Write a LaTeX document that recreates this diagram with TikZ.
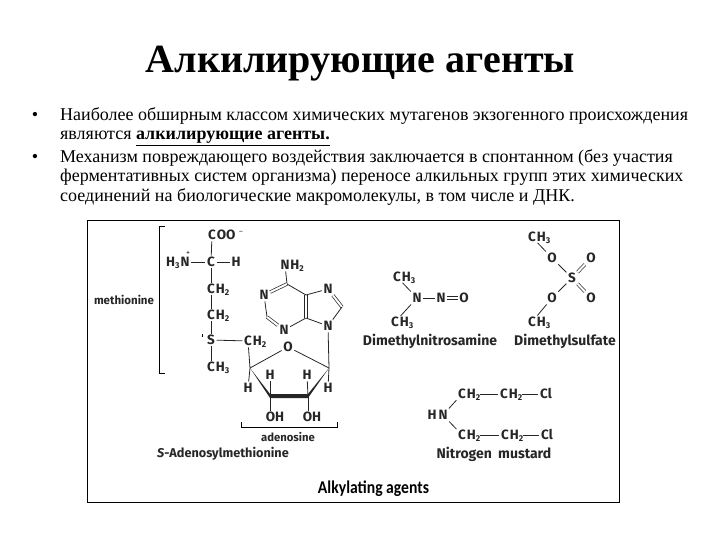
\documentclass[tikz,border=0pt]{standalone}
\usepackage{fontspec}
\setmainfont{Liberation Serif}
\setsansfont{Fira Sans}
\newfontfamily\captionfont{Carlito}
\usetikzlibrary{positioning}
\newcommand{\lowidx}[1]{\raisebox{-2pt}{\fontsize{8.5}{8.5}\selectfont #1}}
\tikzset{
    atom/.style={font=\fontsize{13.5}{14}\selectfont\sffamily\bfseries,text=black!85,inner sep=1.5pt,text height=9.5pt,text depth=0pt},
    tailtext/.style={atom,inner sep=0pt},
    chemname/.style={font=\fontsize{14}{15}\selectfont\sffamily\bfseries,text=black!85,inner sep=0pt},
    bond/.style={draw=black!85,line width=0.8pt},
    dbond/.style={draw=black!85,double,double distance=2pt,line width=0.7pt},
    bodyline/.style={font=\fontsize{18}{19}\selectfont,anchor=base west,inner sep=0pt},
}
\begin{document}
\begin{tikzpicture}[x=1pt,y=-1pt]
    \useasboundingbox (0,0) rectangle (720,540);
    \node (title) at (360.5,64) {\fontsize{40}{42}\selectfont\bfseries Алкилирующие агенты};
    \foreach \ypos/\nm in {116/bulleta,158/bulletb} {
    \node (\nm) at (35,\ypos) {\fontsize{18}{19}\selectfont •};
    }
    \foreach \ypos/\textline in {
        121/{Наиболее обширным классом химических мутагенов экзогенного происхождения},
        140/{являются \underline{\bfseries алкилирующие агенты.}},
        163/{Механизм повреждающего воздействия заключается в спонтанном (без участия},
        182/{ферментативных систем организма) переносе алкильных групп этих химических},
        202/{соединений на биологические макромолекулы, в том числе и ДНК.}} {
    \node[bodyline] (line\ypos) at (60,\ypos) {\textline};
    }
    \draw[line width=0.8pt] (87.5,220.5) rectangle (619.5,502);
    % methionine part
    \node[atom] (coo) at (212,235) {C};
    \node[tailtext,right=-1pt of coo] (cootail) {OO};
    \node[atom,text=black!50] (minus) at (241,230) {\fontsize{8}{8}\selectfont −};
    \node[atom] (nthree) at (185,262) {N};
    \node[tailtext,left=-1pt of nthree] (nthreetail) {H\lowidx{3}};
    \node[atom] (plus) at (188,251) {\fontsize{8}{8}\selectfont\mdseries +};
    \node[atom] (calpha) at (211,262) {C};
    \node[atom] (halpha) at (236,262) {H};
    \node[atom] (chb) at (211,289) {C};
    \node[tailtext,right=-1pt of chb] (chbtail) {H\lowidx{2}};
    \node[atom] (chg) at (211,315) {C};
    \node[tailtext,right=-1pt of chg] (chgtail) {H\lowidx{2}};
    \node[atom] (sulf) at (211,340) {S};
    \node[atom] (chme) at (211,367) {C};
    \node[tailtext,right=-1pt of chme] (chmetail) {H\lowidx{3}};
    \node[atom] (chfive) at (248,341) {C};
    \node[tailtext,right=-1pt of chfive] (chfivetail) {H\lowidx{2}};
    \node[chemname,font=\fontsize{11.5}{12}\selectfont\sffamily\bfseries] (methname) at (124,300) {methionine};
    \draw[line width=1pt] (165,227) -- (159.5,227) -- (159.5,373) -- (165,373);
    \draw[line width=0.4pt] (202.5,334) -- (202.5,336.5);
    \draw[bond] (coo) -- (calpha);
    \draw[bond] (nthree) -- (calpha);
    \draw[bond] (calpha) -- (halpha);
    \draw[bond] (calpha) -- (chb);
    \draw[bond] (chb) -- (chg);
    \draw[bond] (chg) -- (sulf);
    \draw[bond] (sulf) -- (chme);
    \draw[bond] (sulf) -- (chfive);
    % adenine
    \node[atom] (nsix) at (285,265) {N};
    \node[tailtext,right=-1pt of nsix] (nsixtail) {H\lowidx{2}};
    \node[atom] (none) at (264,295) {N};
    \node[atom] (nseven) at (328,289) {N};
    \node[atom] (nthr) at (284,330) {N};
    \node[atom] (nnine) at (328,326) {N};
    \coordinate (csix) at (287,284);
    \coordinate (cfive) at (306,295);
    \coordinate (cfour) at (306,318);
    \coordinate (ceight) at (342,307);
    \coordinate (ctwo) at (267,317);
    \draw[bond] (nsix) -- (csix);
    \draw[dbond] (csix) -- (none);
    \draw[bond] (none) -- (ctwo);
    \draw[dbond] (ctwo) -- (nthr);
    \draw[bond] (nthr) -- (cfour);
    \draw[dbond] (cfour) -- (cfive);
    \draw[bond] (cfive) -- (csix);
    \draw[bond] (cfive) -- (nseven);
    \draw[dbond] (nseven) -- (ceight);
    \draw[bond] (ceight) -- (nnine);
    \draw[bond] (nnine) -- (cfour);
    % ribose
    \node[atom] (oring) at (288,347) {O};
    \coordinate (cfourp) at (250,368);
    \coordinate (coneb) at (329,368);
    \coordinate (cthreep) at (270,396);
    \coordinate (ctwop) at (308,396);
    \node[atom] (hleft) at (248,388) {H};
    \node[atom] (hright) at (328,388) {H};
    \node[atom] (hthree) at (270,375) {H};
    \node[atom] (htwo) at (307,375) {H};
    \node[atom] (ohthree) at (275,417) {OH};
    \node[atom] (ohtwo) at (312,417) {OH};
    \draw[bond] (chfive) -- (cfourp);
    \draw[bond] (cfourp) -- (oring);
    \draw[bond] (oring) -- (coneb);
    \draw[bond] (coneb) -- (nnine);
    \draw[bond] (cfourp) -- (hleft);
    \draw[bond] (coneb) -- (hright);
    \draw[bond] (cthreep) -- (hthree);
    \draw[bond] (ctwop) -- (htwo);
    \draw[bond] (cthreep) -- (cthreep |- ohthree.north);
    \draw[bond] (ctwop) -- (ctwop |- ohtwo.north);
    \fill[black!85] (cfourp) -- ([yshift=2pt]cthreep) -- ([yshift=2pt]ctwop) -- (coneb)
        -- ([yshift=-2pt]ctwop) -- ([yshift=-2pt]cthreep) -- cycle;
    \draw[line width=0.8pt] (241,422) -- (241,427) -- (337,427) -- (337,422);
    \node[chemname,font=\fontsize{11.3}{12}\selectfont\sffamily\bfseries] (adename) at (288,437) {adenosine};
    \node[chemname,font=\fontsize{12.7}{13}\selectfont\sffamily\bfseries] (samname) at (223,454) {\textit{S}-Adenosylmethionine};
    % dimethylnitrosamine
    \node[atom] (meup) at (397,277) {C};
    \node[tailtext,right=-1pt of meup] (meuptail) {H\lowidx{3}};
    \node[atom] (melo) at (395,322) {C};
    \node[tailtext,right=-1pt of melo] (melotail) {H\lowidx{3}};
    \node[atom] (namine) at (417,298) {N};
    \node[atom] (nnitro) at (441,298) {N};
    \node[atom] (onitro) at (464,298) {O};
    \draw[bond] (meup) -- (namine);
    \draw[bond] (melo) -- (namine);
    \draw[bond] (namine) -- (nnitro);
    \draw[dbond] (nnitro) -- (onitro);
    \node[chemname] (dmnname) at (430,341) {Dimethylnitrosamine};
    % dimethylsulfate
    \node[atom] (msup) at (532,237) {C};
    \node[tailtext,right=-1pt of msup] (msuptail) {H\lowidx{3}};
    \node[atom] (mslo) at (532,322) {C};
    \node[tailtext,right=-1pt of mslo] (mslotail) {H\lowidx{3}};
    \node[atom] (oup) at (552,258) {O};
    \node[atom] (olo) at (552,298) {O};
    \node[atom] (ssulf) at (572,278) {S};
    \node[atom] (odup) at (591,258) {O};
    \node[atom] (odlo) at (591,298) {O};
    \draw[bond] (msup) -- (oup);
    \draw[bond] (mslo) -- (olo);
    \draw[bond] (oup) -- (ssulf);
    \draw[bond] (olo) -- (ssulf);
    \draw[dbond] (ssulf) -- (odup);
    \draw[dbond] (ssulf) -- (odlo);
    \node[chemname] (dmsname) at (565,341) {Dimethylsulfate};
    % nitrogen mustard
    \node[atom] (hn) at (443,415) {N};
    \node[tailtext,left=0pt of hn] (hntail) {H};
    \node[atom] (mua) at (462,394) {C};
    \node[tailtext,right=-1pt of mua] (muatail) {H\lowidx{2}};
    \node[atom] (mub) at (504,394) {C};
    \node[tailtext,right=-1pt of mub] (mubtail) {H\lowidx{2}};
    \node[atom] (mucl) at (546,394) {Cl};
    \node[atom] (muc) at (462,435) {C};
    \node[tailtext,right=-1pt of muc] (muctail) {H\lowidx{2}};
    \node[atom] (mud) at (505,435) {C};
    \node[tailtext,right=-1pt of mud] (mudtail) {H\lowidx{2}};
    \node[atom] (mucll) at (547,435) {Cl};
    \draw[bond] (hn) -- (mua);
    \draw[bond] (hn) -- (muc);
    \draw[bond] (muatail) -- (mub);
    \draw[bond] (mubtail) -- (mucl);
    \draw[bond] (muctail) -- (mud);
    \draw[bond] (mudtail) -- (mucll);
    \node[chemname] (mustname) at (494,454) {Nitrogen\hspace{3pt} mustard};
    \node[inner sep=0pt] (figcaption) at (373.5,489) {\scalebox{0.87}[1]{\fontsize{18}{19}\selectfont\captionfont\bfseries Alkylating agents}};
\end{tikzpicture}
\end{document}
